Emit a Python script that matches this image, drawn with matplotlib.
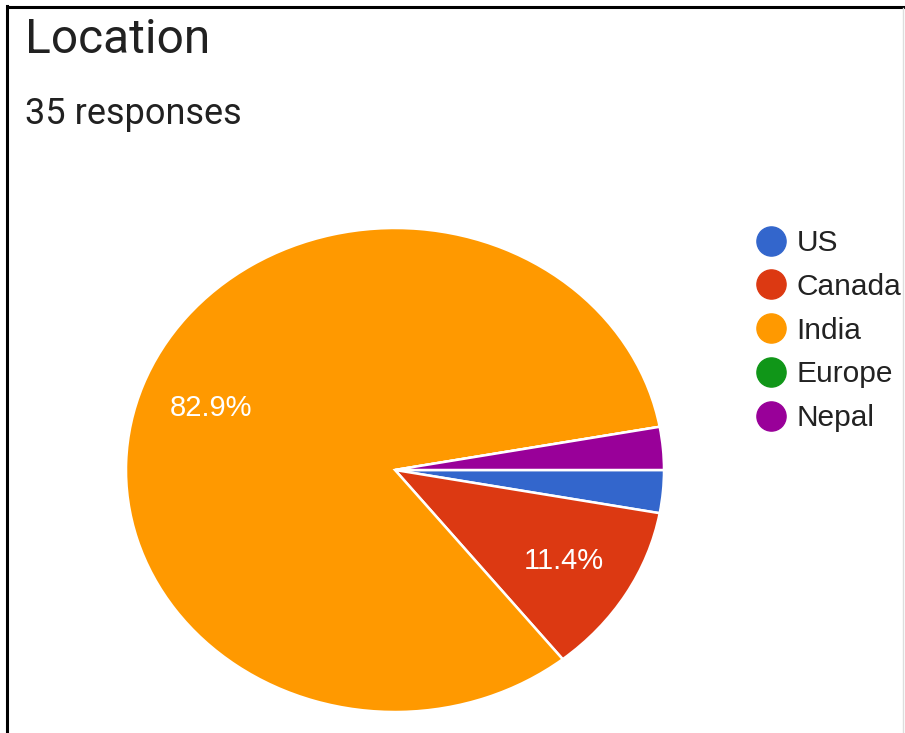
import numpy as np
import matplotlib.pyplot as plt
from matplotlib.lines import Line2D

# survey data: 35 responses
categories = ["US", "Canada", "India", "Europe", "Nepal"]
counts = [1, 4, 29, 0, 1]
colors = ["#3366CC", "#DC3912", "#FF9900", "#109618", "#990099"]

W, H = 905, 733
fig = plt.figure(figsize=(W / 100, H / 100), dpi=100)
fig.patch.set_facecolor("white")

# pie is squashed a bit (wider than tall) in the screenshot
left, right, top, bottom = 126, 664, 228, 712
ax = fig.add_axes([left / W, 1 - bottom / H, (right - left) / W, (bottom - top) / H])


def fmt_pct(p):
    return "%.1f%%" % p if p > 5 else ""


wedges, texts, autotexts = ax.pie(
    counts,
    colors=colors,
    startangle=0,
    counterclock=False,
    autopct=fmt_pct,
    pctdistance=0.73,
    wedgeprops=dict(edgecolor="white", linewidth=1.8),
    textprops=dict(color="white", fontsize=21, family=["Liberation Sans", "DejaVu Sans"]),
)
ax.set_aspect("auto")
ax.set_xlim(-1, 1)
ax.set_ylim(-1, 1)
ax.axis("off")

# titles
fig.text(25 / W, 1 - 53 / H, "Location", fontsize=34.5, color="#212121",
         family=["Roboto", "DejaVu Sans"], va="baseline", ha="left")
fig.text(25 / W, 1 - 124 / H, "35 responses", fontsize=26, color="#212121",
         family=["Roboto", "DejaVu Sans"], va="baseline", ha="left")

# legend with round markers
handles = [
    Line2D([], [], marker="o", linestyle="none", markersize=21, markerfacecolor=c,
           markeredgecolor=c)
    for c in colors
]
fig.legend(
    handles,
    categories,
    loc="upper left",
    bbox_to_anchor=(756 / W, 1 - 229 / H),
    frameon=False,
    prop=dict(family=["Liberation Sans", "DejaVu Sans"], size=21.5),
    labelcolor="#222222",
    handlelength=1.0,
    handletextpad=0.35,
    labelspacing=0.53,
    borderaxespad=0,
    borderpad=0,
)

# screenshot frame
fig.add_artist(Line2D([8 / W, 1], [1 - 7 / H, 1 - 7 / H], transform=fig.transFigure,
                      color="black", linewidth=2.2))
fig.add_artist(Line2D([7 / W, 7 / W], [0, 1 - 6 / H], transform=fig.transFigure,
                      color="black", linewidth=2.2))
fig.add_artist(Line2D([903 / W, 903 / W], [0, 1 - 8 / H], transform=fig.transFigure,
                      color="#dddddd", linewidth=1))

fig.savefig("out.png", dpi=100)
